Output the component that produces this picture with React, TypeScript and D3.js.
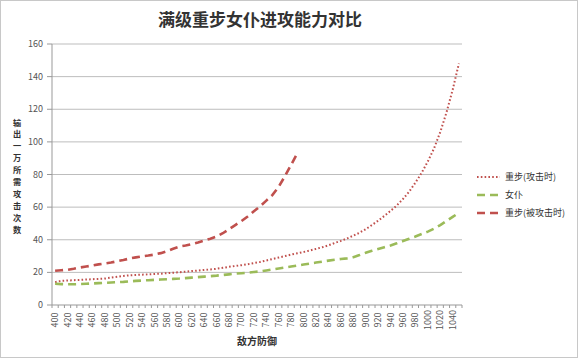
import React from "react";
import * as d3 from "d3";

// 敌方防御 categories, 400..1050 step 10
const defence = d3.range(400, 1060, 10);
const xLabels = d3.range(400, 1060, 20);
const yTicks = [0, 20, 40, 60, 80, 100, 120, 140, 160];

// 重步(攻击时)
const heavyAttack = [
  14, 14.8, 15, 15.2, 15.4, 15.6, 15.8, 16, 16.2, 16.8, 17.3, 17.8, 18.2, 18.4,
  18.6, 18.8, 19, 19.2, 19.5, 19.8, 20.1, 20.4, 20.8, 21.1, 21.5, 21.8, 22.2,
  22.8, 23.4, 23.9, 24.4, 25, 25.7, 26.4, 27.3, 28.2, 29.1, 30, 30.9, 31.7,
  32.5, 33.4, 34.4, 35.4, 36.6, 38, 39.3, 40.8, 42.5, 44.3, 46.5, 49, 51.7,
  54.6, 57.7, 61, 65, 69.5, 75, 81, 88, 96, 106, 118, 132, 148,
];
// 女仆
const maid = [
  13, 12.8, 12.7, 12.7, 12.8, 13, 13.2, 13.4, 13.6, 13.8, 14, 14.2, 14.5, 14.8,
  15, 15.2, 15.4, 15.6, 15.8, 16, 16.2, 16.5, 16.8, 17.1, 17.4, 17.7, 18, 18.4,
  18.8, 19.2, 19.5, 19.8, 20.2, 20.6, 21.2, 21.8, 22.4, 23, 23.6, 24.2, 24.8,
  25.4, 26, 26.6, 27.2, 27.7, 28.2, 28.6, 29.3, 30.6, 32, 33.2, 34.3, 35.4,
  36.5, 37.8, 39.2, 40.6, 42, 43.5, 45, 46.8, 49, 51.5, 54, 56.5,
];
// 重步(被攻击时), 400..790
const heavyDefend = [
  21, 21.3, 21.6, 22.2, 23, 23.6, 24.2, 24.9, 25.5, 26, 26.8, 27.6, 28.5, 29.2,
  29.8, 30.3, 30.9, 31.8, 33, 34.5, 35.8, 36.5, 37.3, 38.3, 39.5, 40.6, 42, 44,
  46.5, 49, 51.5, 54.3, 57.5, 60.5, 64, 67.5, 72.5, 79, 86, 93,
];

const series = [
  { name: "重步(攻击时)", values: heavyAttack, color: "#c0504d", dash: "1.6,2.2", width: 2 },
  { name: "女仆", values: maid, color: "#9bbb59", dash: "8,5", width: 2.6 },
  { name: "重步(被攻击时)", values: heavyDefend, color: "#c0504d", dash: "8,5", width: 2.6 },
];

const yTitle = "输出一万所需攻击次数".split("");
const font = "'Noto Sans CJK SC', 'Noto Sans', sans-serif";

export default function App() {
  const W = 580;
  const H = 362;
  const left = 52;
  const right = 462;
  const top = 44;
  const bottom = 305;

  const x = d3
    .scaleBand<number>()
    .domain(defence)
    .range([left, right])
    .paddingInner(0)
    .paddingOuter(0);
  const y = d3.scaleLinear().domain([0, 160]).range([bottom, top]);
  const cx = (c: number) => x(c)! + x.bandwidth() / 2;

  const line = d3
    .line<number>()
    .x((_, i) => cx(defence[i]))
    .y((d) => y(d));

  return (
    <div style={{ position: "fixed", left: 0, top: 0 }}>
      <svg width={W} height={H} style={{ display: "block", background: "#fff" }}>
        <rect x={0.5} y={0.5} width={577} height={357} fill="#fff" stroke="#c8c8c8" />

        <text x={260} y={26} textAnchor="middle" fontFamily={font} fontSize={17} fontWeight="bold" fill="#333">
          满级重步女仆进攻能力对比
        </text>

        {/* gridlines + y axis */}
        {yTicks.map((t) => (
          <g key={t}>
            {t > 0 && <line x1={left} x2={right} y1={y(t)} y2={y(t)} stroke="#bdbdbd" strokeWidth={1} />}
            <line x1={left - 5} x2={left} y1={y(t)} y2={y(t)} stroke="#999" />
            <text x={left - 9} y={y(t) + 3} textAnchor="end" fontFamily={font} fontSize={9} fill="#555">
              {t}
            </text>
          </g>
        ))}
        <line x1={left} x2={left} y1={top} y2={bottom} stroke="#999" />
        <line x1={left} x2={right} y1={bottom} y2={bottom} stroke="#999" />
        {d3.range(defence.length + 1).map((i) => {
          const px = left + i * x.bandwidth();
          return <line key={i} x1={px} x2={px} y1={bottom} y2={bottom + 3} stroke="#999" />;
        })}
        {xLabels.map((c) => (
          <text
            key={c}
            transform={`translate(${cx(c) + 3},320) rotate(-90)`}
            textAnchor="middle"
            fontFamily={font}
            fontSize={9}
            fill="#555"
          >
            {c}
          </text>
        ))}

        <text x={257} y={345} textAnchor="middle" fontFamily={font} fontSize={10} fontWeight="bold" fill="#333">
          敌方防御
        </text>
        {yTitle.map((ch, i) => (
          <text
            key={i}
            x={17}
            y={125.5 + i * 11.9}
            textAnchor="middle"
            fontFamily={font}
            fontSize={8.2}
            fontWeight="bold"
            fill="#333"
          >
            {ch}
          </text>
        ))}

        {series.map((s) => (
          <path
            key={s.name}
            d={line(s.values) ?? ""}
            fill="none"
            stroke={s.color}
            strokeWidth={s.width}
            strokeDasharray={s.dash}
          />
        ))}

        {series.map((s, i) => {
          const ly = 177 + i * 18;
          return (
            <g key={s.name}>
              <line x1={477} x2={500} y1={ly} y2={ly} stroke={s.color} strokeWidth={s.width} strokeDasharray={s.dash} />
              <text x={505} y={ly + 3} fontFamily={font} fontSize={9} fill="#333">
                {s.name}
              </text>
            </g>
          );
        })}
      </svg>
    </div>
  );
}
